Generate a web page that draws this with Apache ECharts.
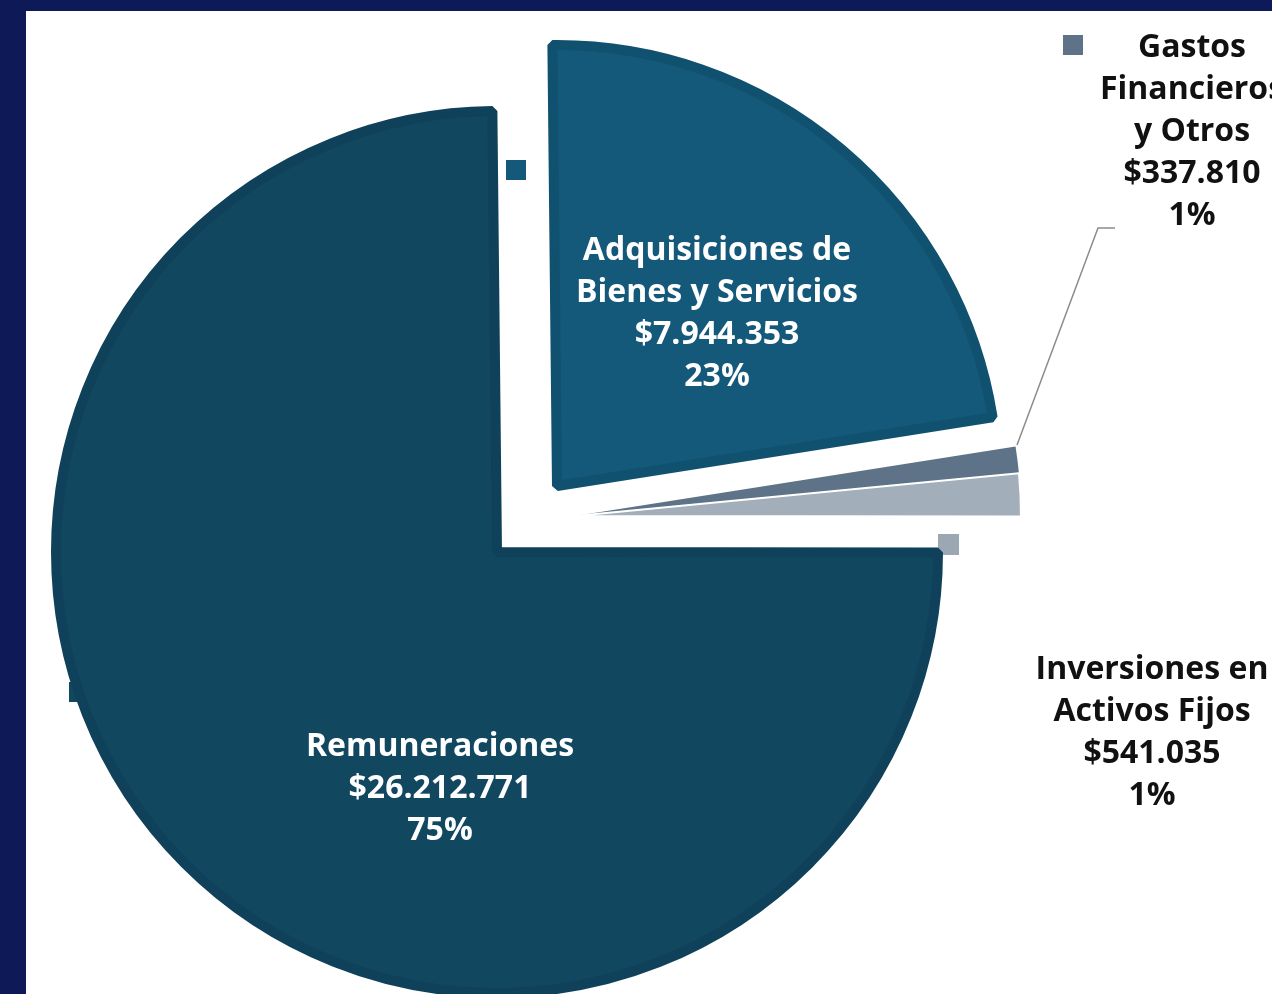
<!DOCTYPE html>
<html>
<head>
<meta charset="utf-8">
<script src="https://cdn.jsdelivr.net/npm/echarts@6/dist/echarts.min.js"></script>
<style>
html, body {
  margin: 0;
  padding: 0;
  width: 1272px;
  height: 994px;
  overflow: hidden;
  background: #0d1a57;
}
#chart {
  position: absolute;
  left: 26px;
  top: 11px;
  width: 1246px;
  height: 983px;
  background: #ffffff;
}
</style>
</head>
<body>
<div id="chart"></div>
<script>
// datos del gráfico
const categories = ['Adquisiciones de Bienes y Servicios', 'Gastos Financieros y Otros', 'Inversiones en Activos Fijos', 'Remuneraciones'];
const labelNames = ['Adquisiciones de\nBienes y Servicios', 'Gastos\nFinancieros\ny Otros', 'Inversiones en\nActivos Fijos', 'Remuneraciones'];
const amounts = [7944353, 337810, 541035, 26212771];
const percents = ['23%', '1%', '1%', '75%'];

// estilos
const sliceColors = ['#14597a', '#5e7387', '#a3aebb', '#11475f'];
const edgeColors = ['#115170', '#5e7387', '#ffffff', '#0f425a'];
const edgeWidths = [10, 0, 2, 10];
const OX = 26, OY = 11; // desplazamiento del área blanca
const labelPos = [[717, 314], [1192, 132], [1152, 733], [440, 789]];

function money(n) {
  return '$' + String(n).replace(/\B(?=(\d{3})+(?!\d))/g, '.');
}

// una serie por cada bloque separado del pastel
function pieSeries(cx, cy, r, visible) {
  return {
    type: 'pie',
    center: [cx - OX, cy - OY],
    radius: r,
    startAngle: 90.6,
    clockwise: true,
    silent: true,
    avoidLabelOverlap: false,
    label: {
      position: 'outside',
      fontFamily: 'Open Sans',
      fontWeight: 'bold',
      fontSize: 32,
      lineHeight: 42,
      align: 'center',
      formatter: p => labelNames[p.dataIndex] + '\n' + money(amounts[p.dataIndex]) + '\n' + percents[p.dataIndex]
    },
    labelLine: { show: false, lineStyle: { color: '#8c8c8c', width: 1.5 } },
    labelLayout: params => {
      const i = params.dataIndex;
      const res = {
        x: labelPos[i][0] - OX,
        y: labelPos[i][1] - OY,
        align: 'center',
        verticalAlign: 'middle'
      };
      if (i === 1) {
        res.labelLinePoints = [[1017 - OX, 445 - OY], [1098 - OX, 228 - OY], [1115 - OX, 228 - OY]];
      }
      return res;
    },
    data: categories.map((c, i) => {
      const on = visible.indexOf(i) >= 0;
      return {
        name: c,
        value: amounts[i],
        itemStyle: on
          ? { color: sliceColors[i], borderColor: edgeColors[i], borderWidth: edgeWidths[i], borderJoin: 'bevel' }
          : { color: 'rgba(0,0,0,0)', borderWidth: 0 },
        label: { show: on, color: (i === 0 || i === 3) ? '#ffffff' : '#111111' },
        labelLine: { show: on && i === 1 }
      };
    })
  };
}

let myChart = echarts.init(document.getElementById('chart'));
myChart.setOption({
  animation: false,
  backgroundColor: '#ffffff',
  graphic: [
    { type: 'rect', z: 0, shape: { x: 506 - OX, y: 160 - OY, width: 20, height: 20 }, style: { fill: sliceColors[0] } },
    { type: 'rect', z: 0, shape: { x: 1063 - OX, y: 35 - OY, width: 20, height: 20 }, style: { fill: sliceColors[1] } },
    { type: 'rect', z: 0, shape: { x: 938 - OX, y: 534 - OY, width: 21, height: 21 }, style: { fill: '#9ba7b3' } },
    { type: 'rect', z: 0, shape: { x: 69 - OX, y: 682 - OY, width: 20, height: 20 }, style: { fill: sliceColors[3] } }
  ],
  series: [
    pieSeries(497, 552, 441, [3]),
    pieSeries(557, 486, 441, [0]),
    pieSeries(575, 516, 446, [1, 2])
  ]
});
</script>
</body>
</html>
